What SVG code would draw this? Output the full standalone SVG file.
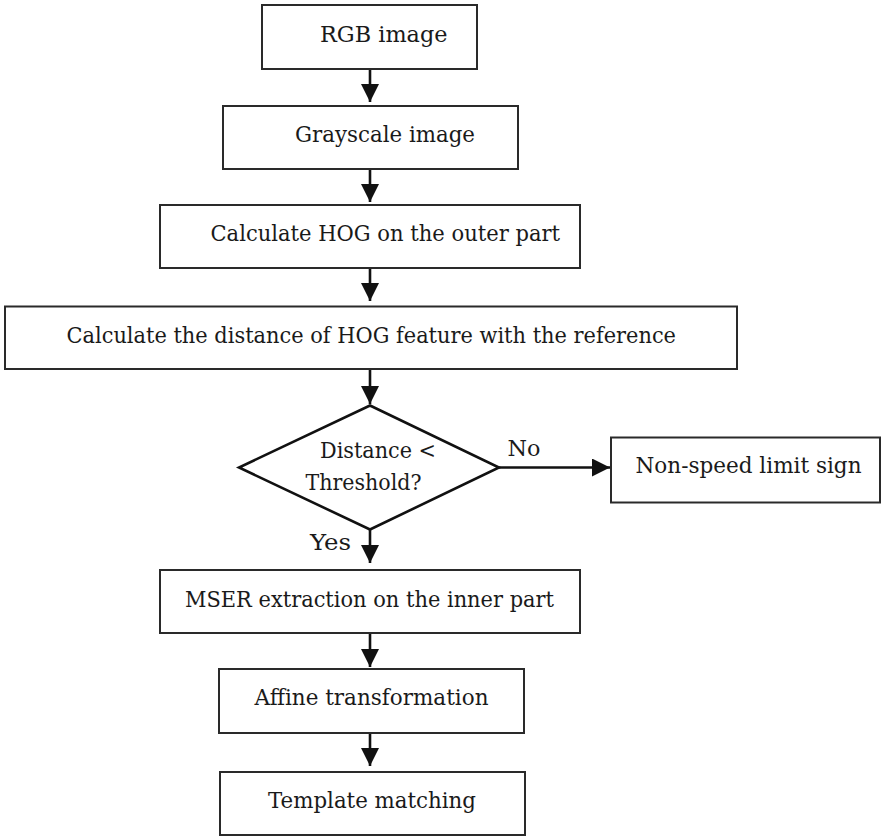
<svg xmlns="http://www.w3.org/2000/svg" width="882" height="836" viewBox="0 0 882 836">
<defs>
<style>
.box{fill:#fff;stroke:#2a2a2a;stroke-width:2}
.dia{fill:#fff;stroke:#111;stroke-width:2.6}
.c{stroke:#111;stroke-width:2.6;fill:none}
</style>
<marker id="ah" markerUnits="userSpaceOnUse" markerWidth="18" markerHeight="18" viewBox="0 0 16 16" refX="16" refY="8" orient="auto">
<path d="M0,0 L16,8 L0,16 Z" fill="#111"/>
</marker>
</defs>
<rect width="882" height="836" fill="#fff"/>
<g font-family="'DejaVu Serif', 'Liberation Serif', serif" font-size="23" fill="#1a1a1a" lengthAdjust="spacingAndGlyphs">
<g id="connectors">
<line class="c" x1="370" y1="69" x2="370" y2="102" marker-end="url(#ah)"/>
<line class="c" x1="370" y1="169" x2="370" y2="202" marker-end="url(#ah)"/>
<line class="c" x1="370" y1="268" x2="370" y2="301" marker-end="url(#ah)"/>
<line class="c" x1="370" y1="369" x2="370" y2="404" marker-end="url(#ah)"/>
<line class="c" x1="370" y1="529" x2="370" y2="563" marker-end="url(#ah)"/>
<line class="c" x1="370" y1="633" x2="370" y2="667" marker-end="url(#ah)"/>
<line class="c" x1="370" y1="733" x2="370" y2="766" marker-end="url(#ah)"/>
<line class="c" x1="499" y1="467.5" x2="610" y2="467.5" marker-end="url(#ah)"/>
<text x="507.5" y="456" textLength="33" lengthAdjust="spacingAndGlyphs">No</text>
<text x="310" y="550" textLength="41" lengthAdjust="spacingAndGlyphs">Yes</text>
</g>
<g id="rgb">
<rect class="box" x="262" y="5" width="215" height="64"/>
<text x="320" y="42" textLength="127.5" lengthAdjust="spacingAndGlyphs">RGB image</text>
</g>
<g id="gray">
<rect class="box" x="223" y="106" width="295" height="63"/>
<text x="295" y="142" textLength="180" lengthAdjust="spacingAndGlyphs">Grayscale image</text>
</g>
<g id="hog">
<rect class="box" x="160" y="205" width="420" height="63"/>
<text x="210.5" y="241" textLength="349.5" lengthAdjust="spacingAndGlyphs">Calculate HOG on the outer part</text>
</g>
<g id="distance">
<rect class="box" x="5" y="306.5" width="732" height="62.5"/>
<text x="66.5" y="343" textLength="609.5" lengthAdjust="spacingAndGlyphs">Calculate the distance of HOG feature with the reference</text>
</g>
<g id="decision">
<polygon class="dia" points="370,405.5 499,467.5 370,529.5 239,467.5"/>
<text x="320" y="458" textLength="116" lengthAdjust="spacingAndGlyphs">Distance &lt;</text>
<text x="305.5" y="490" textLength="116" lengthAdjust="spacingAndGlyphs">Threshold?</text>
</g>
<g id="nonspeed">
<rect class="box" x="611" y="437.5" width="269" height="65"/>
<text x="635.5" y="473" textLength="226" lengthAdjust="spacingAndGlyphs">Non-speed limit sign</text>
</g>
<g id="mser">
<rect class="box" x="160" y="570" width="420" height="63"/>
<text x="185" y="607" textLength="369" lengthAdjust="spacingAndGlyphs">MSER extraction on the inner part</text>
</g>
<g id="affine">
<rect class="box" x="219" y="669" width="305" height="64"/>
<text x="254.5" y="705" textLength="234" lengthAdjust="spacingAndGlyphs">Affine transformation</text>
</g>
<g id="template">
<rect class="box" x="220" y="772" width="305" height="63"/>
<text x="268" y="808" textLength="208" lengthAdjust="spacingAndGlyphs">Template matching</text>
</g>
</g>
</svg>
